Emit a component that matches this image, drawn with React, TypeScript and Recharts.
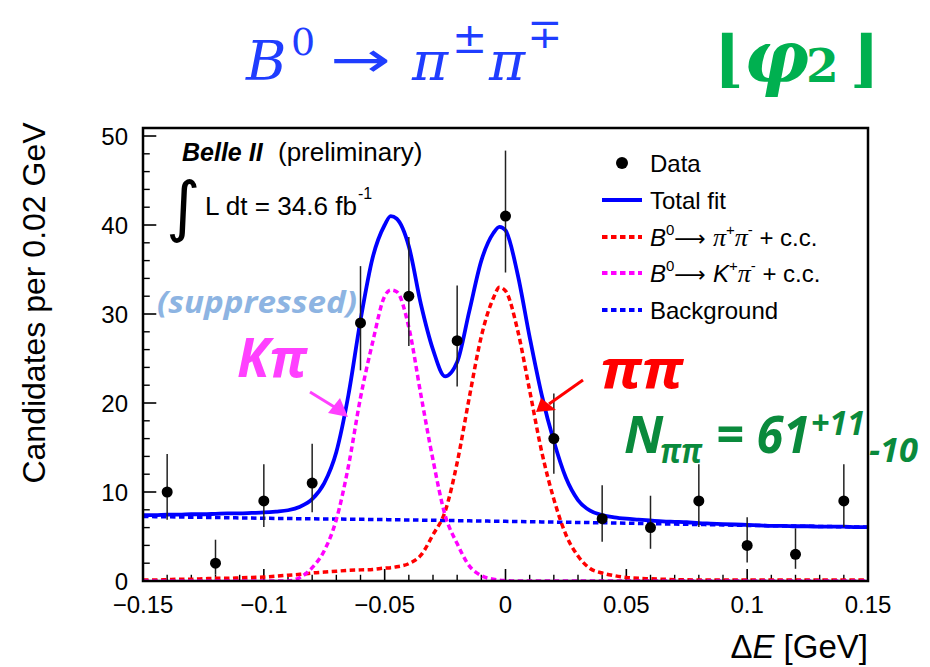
import { ComposedChart, Line, Scatter, ErrorBar, XAxis, YAxis, ReferenceLine } from 'recharts'

// fit curves (Delta E in GeV -> candidates per bin)
const FIT_X = [
  -0.15, -0.145, -0.14, -0.135, -0.13, -0.125, -0.12, -0.115, -0.11, -0.105, -0.1, -0.095, -0.09, -0.085, -0.08,
  -0.075, -0.07, -0.065, -0.06, -0.055, -0.05, -0.0475, -0.045, -0.04, -0.035, -0.03, -0.025, -0.02, -0.015, -0.01,
  -0.005, -0.0025, 0, 0.005, 0.01, 0.015, 0.02, 0.025, 0.03, 0.035, 0.04, 0.045, 0.05, 0.055, 0.06,
  0.065, 0.07, 0.075, 0.08, 0.085, 0.09, 0.095, 0.1, 0.105, 0.11, 0.115, 0.12, 0.125, 0.13, 0.135,
  0.14, 0.145, 0.15,
]
const TOTAL_FIT = [
  7.4, 7.4, 7.45, 7.45, 7.5, 7.5, 7.55, 7.6, 7.6, 7.65, 7.7, 7.8, 7.95, 8.35, 9.2,
  11.0, 14.5, 20.9, 29.3, 36.3, 40.0, 41.0, 40.7, 37.6, 31.1, 26.0, 23.0, 24.6, 30.3, 36.0,
  39.1, 39.8, 39.4, 34.5, 27.4, 20.9, 15.7, 11.6, 9.1, 7.9, 7.4, 7.15, 7.0, 6.9, 6.8,
  6.7, 6.65, 6.6, 6.5, 6.45, 6.4, 6.35, 6.3, 6.25, 6.2, 6.2, 6.15, 6.15, 6.1, 6.1,
  6.1, 6.05, 6.05,
]
const PIPI_FIT = [
  0.1, 0.1, 0.15, 0.2, 0.2, 0.25, 0.3, 0.3, 0.35, 0.4, 0.45, 0.55, 0.65, 0.75, 0.9,
  1.0, 1.1, 1.2, 1.25, 1.3, 1.45, 1.5, 1.6, 1.95, 2.9, 5.2, 7.8, 13.3, 20.6, 27.5,
  31.8, 33.0, 32.6, 28.2, 21.4, 14.5, 9.2, 5.2, 2.8, 1.4, 0.9, 0.6, 0.4, 0.3, 0.25,
  0.2, 0.15, 0.15, 0.1, 0.1, 0.1, 0.1, 0.1, 0.1, 0.1, 0.1, 0.1, 0.1, 0.1, 0.1,
  0.1, 0.1, 0.1,
]
const KPI_FIT = [
  0, 0, 0, 0, 0, 0, 0, 0, 0, 0, 0, 0, 0, 0.4, 1.5,
  3.4, 6.9, 12.9, 20.6, 26.8, 32.0, 32.7, 32.5, 28.5, 20.9, 13.6, 7.4, 4.2, 1.7, 0.6,
  0.2, 0.1, 0.05, 0, 0, 0, 0, 0, 0, 0, 0, 0, 0, 0, 0,
  0, 0, 0, 0, 0, 0, 0, 0, 0, 0, 0, 0, 0, 0, 0,
  0, 0, 0,
]
const BKG_FIT = [
  7.25, 7.23, 7.21, 7.19, 7.17, 7.15, 7.13, 7.11, 7.09, 7.07, 7.05, 7.03, 7.02, 7.0, 6.99,
  6.97, 6.96, 6.94, 6.93, 6.91, 6.9, 6.89, 6.88, 6.86, 6.84, 6.82, 6.8, 6.78, 6.76, 6.74,
  6.72, 6.71, 6.7, 6.68, 6.66, 6.64, 6.62, 6.6, 6.58, 6.56, 6.54, 6.52, 6.5, 6.47, 6.45,
  6.42, 6.4, 6.37, 6.35, 6.32, 6.3, 6.27, 6.25, 6.23, 6.21, 6.19, 6.17, 6.15, 6.13, 6.11,
  6.09, 6.07, 6.05,
]

// data points with asymmetric errors
const DATA_X = [-0.14, -0.12, -0.1, -0.08, -0.06, -0.04, -0.02, 0, 0.02, 0.04, 0.06, 0.08, 0.1, 0.12, 0.14]
const DATA_Y = [10, 2, 9, 11, 29, 32, 27, 41, 16, 7, 6, 9, 4, 3, 9]
const ERR_LO = [3.11, 1.29, 2.94, 3.27, 5.33, 5.59, 5.14, 6.34, 3.94, 2.58, 2.38, 2.94, 1.91, 1.63, 2.94]
const ERR_HI = [4.27, 2.64, 4.11, 4.42, 6.38, 6.64, 6.2, 7.36, 5.08, 3.77, 3.58, 4.11, 3.16, 2.92, 4.11]

const X_MAJOR = [-0.15, -0.1, -0.05, 0, 0.05, 0.1, 0.15]
const X_MINOR = [-0.14, -0.13, -0.12, -0.11, -0.09, -0.08, -0.07, -0.06, -0.04, -0.03, -0.02, -0.01,
  0.01, 0.02, 0.03, 0.04, 0.06, 0.07, 0.08, 0.09, 0.11, 0.12, 0.13, 0.14]
const Y_MAJOR = [0, 10, 20, 30, 40, 50]
const Y_MINOR = [2, 4, 6, 8, 12, 14, 16, 18, 22, 24, 26, 28, 32, 34, 36, 38, 42, 44, 46, 48]

const Y_MAX = 50.9
const SANS = '"Liberation Sans", Arial, sans-serif'
const HUMANIST = '"Open Sans", Lato, sans-serif'
const SERIF = '"DejaVu Serif", serif'
const BLUE = '#0000ff'
const RED = '#ff0000'
const MAGENTA = '#ff00ff'

const fitRows = FIT_X.map((x, i) => ({
  x, total: TOTAL_FIT[i], pipi: PIPI_FIT[i], kpi: KPI_FIT[i], bkg: BKG_FIT[i],
}))
const points = DATA_X.map((x, i) => ({ x, y: DATA_Y[i], err: [ERR_LO[i], ERR_HI[i]] }))

const fmtX = (v: number) => (v === 0 ? '0' : (v < 0 ? '\u2212' : '') + String(Math.abs(v)))

const Dot = (p: any) => <circle cx={p.cx} cy={p.cy} r={5.5} fill="#000" />

function Legend() {
  const rows = [
    { kind: 'dot' },
    { kind: 'line', color: BLUE, dash: undefined },
    { kind: 'line', color: RED, dash: '5.5 3.5' },
    { kind: 'line', color: MAGENTA, dash: '5.5 3.5' },
    { kind: 'line', color: BLUE, dash: '5.5 3.5' },
  ]
  const ys = [163, 200, 237, 273, 310]
  const pi = { fontStyle: 'italic', fontFamily: '"Liberation Serif", serif', fontSize: 26 } as const
  return (
    <g fontFamily={SANS} fontSize={24} fill="#000">
      {rows.map((r, i) =>
        r.kind === 'dot' ? (
          <circle key={i} cx={622} cy={ys[i]} r={6} fill="#000" />
        ) : (
          <line key={i} x1={602} x2={642} y1={ys[i]} y2={ys[i]} stroke={r.color} strokeWidth={3.8} strokeDasharray={r.dash} />
        )
      )}
      <text x={650} y={172}>Data</text>
      <text x={650} y={209}>Total fit</text>
      <text x={650} y={246}>
        <tspan fontStyle="italic">B</tspan>
        <tspan dy={-11} fontSize={15}>0</tspan>
        <tspan dy={11} fontFamily='"DejaVu Sans", sans-serif' fontSize={22}>{'\u27f6 '}</tspan>
        <tspan {...pi}>{'\u03c0'}</tspan>
        <tspan dy={-11} fontSize={15}>+</tspan>
        <tspan dy={11} {...pi}>{'\u03c0'}</tspan>
        <tspan dy={-11} fontSize={15}>-</tspan>
        <tspan dy={11}> + c.c.</tspan>
      </text>
      <text x={650} y={282}>
        <tspan fontStyle="italic">B</tspan>
        <tspan dy={-11} fontSize={15}>0</tspan>
        <tspan dy={11} fontFamily='"DejaVu Sans", sans-serif' fontSize={22}>{'\u27f6 '}</tspan>
        <tspan fontStyle="italic">K</tspan>
        <tspan dy={-11} fontSize={15}>+</tspan>
        <tspan dy={11} {...pi}>{'\u03c0'}</tspan>
        <tspan dy={-11} fontSize={15}>-</tspan>
        <tspan dy={11}> + c.c.</tspan>
      </text>
      <text x={650} y={319}>Background</text>
    </g>
  )
}

function Overlay() {
  return (
    <svg width={930} height={667} style={{ position: 'absolute', left: 0, top: 0, pointerEvents: 'none' }}>
      {/* title */}
      <g fill="#1f3dff" fontFamily={SERIF}>
        <text x={246} y={80} fontSize={55} fontStyle="italic">B</text>
        <text x={291} y={55} fontSize={38}>0</text>
        <text transform="translate(330,77) scale(1.45,1)" fontSize={50} fontFamily='"DejaVu Sans", sans-serif'>{'\u2192'}</text>
        <text x={412} y={80} fontSize={55} fontStyle="italic">{'\u03c0'}</text>
        <text x={452} y={53} fontSize={42}>{'\u00b1'}</text>
        <text x={489} y={80} fontSize={55} fontStyle="italic">{'\u03c0'}</text>
        <text x={527} y={48} fontSize={42}>{'\u2213'}</text>
      </g>
      <g fill="#00b050" fontWeight="bold" fontFamily={SERIF}>
        <text x={714} y={80} fontSize={62}>{'\u230a'}</text>
        <text x={744} y={82} fontSize={72} fontStyle="italic">{'\u03c6'}</text>
        <text x={806} y={82} fontSize={47}>2</text>
        <text x={850} y={80} fontSize={62}>{'\u230b'}</text>
      </g>

      {/* frame */}
      <rect x={143} y={128} width={725} height={453} fill="none" stroke="#000" strokeWidth={2.5} />

      {/* axis titles */}
      <text transform="translate(45,303) rotate(-90)" textAnchor="middle" fontFamily={SANS} fontSize={32} fill="#000">
        Candidates per 0.02 GeV
      </text>
      <text x={868} y={658} textAnchor="end" fontFamily={SANS} fontSize={33} fill="#000">
        {'\u0394'}<tspan fontStyle="italic">E</tspan> [GeV]
      </text>

      {/* experiment labels */}
      <text x={182} y={161} fontFamily={SANS} fontSize={25} fontWeight="bold" fontStyle="italic">Belle II</text>
      <text x={278} y={161} fontFamily={SANS} fontSize={26}>(preliminary)</text>
      <text x={166} y={229} fontFamily='"DejaVu Sans", sans-serif' fontSize={66}>{'\u222b'}</text>
      <text x={205} y={215} fontFamily={SANS} fontSize={25} textLength={152} lengthAdjust="spacingAndGlyphs">L dt = 34.6 fb</text>
      <text x={358} y={199} fontFamily={SANS} fontSize={16}>-1</text>

      <Legend />

      {/* annotations */}
      <text x={157} y={313} fontFamily={HUMANIST} fontSize={31} fontWeight="bold" fontStyle="italic" fill="#8db4e2"
        textLength={200} lengthAdjust="spacingAndGlyphs">(suppressed)</text>
      <text x={237} y={377} fontFamily={HUMANIST} fontSize={54} fontWeight="bold" fontStyle="italic" fill="#ff40ff"
        textLength={70} lengthAdjust="spacingAndGlyphs">K{'\u03c0'}</text>
      <text x={600} y={388} fontFamily={HUMANIST} fontSize={54} fontWeight="bold" fontStyle="italic" fill="#ff0000"
        textLength={83} lengthAdjust="spacingAndGlyphs">{'\u03c0\u03c0'}</text>
      <g fill="#ff40ff" stroke="#ff40ff">
        <line x1={310} y1={392} x2={336} y2={408} strokeWidth={3} />
        <polygon points="348,417 328,413 340,398" stroke="none" />
      </g>
      <g fill="#ff0000" stroke="#ff0000">
        <line x1={583} y1={380} x2={549} y2={404} strokeWidth={3} />
        <polygon points="536,412 541,398 556,410" stroke="none" />
      </g>
      <g fontFamily={HUMANIST} fontWeight="bold" fontStyle="italic" fill="#0a8a3c">
        <text x={624} y={453} fontSize={52}>N</text>
        <text x={660} y={463} fontSize={34} textLength={42} lengthAdjust="spacingAndGlyphs">{'\u03c0\u03c0'}</text>
        <text x={716} y={453} fontSize={52} textLength={94} lengthAdjust="spacingAndGlyphs">= 61</text>
        <text x={811} y={435} fontSize={34} textLength={54} lengthAdjust="spacingAndGlyphs">+11</text>
        <text x={869} y={462} fontSize={34} textLength={49} lengthAdjust="spacingAndGlyphs">-10</text>
      </g>
    </svg>
  )
}

export default function App() {
  return (
    <div style={{ position: 'absolute', left: 0, top: 0, width: 930, height: 667, background: '#fff', fontFamily: SANS }}>
      <ComposedChart
        width={930}
        height={667}
        data={fitRows}
        margin={{ top: 128, right: 62, bottom: 56, left: 103 }}
      >
        <XAxis
          dataKey="x"
          type="number"
          domain={[-0.15, 0.15]}
          ticks={X_MAJOR}
          tickFormatter={fmtX}
          allowDataOverflow
          height={30}
          axisLine={false}
          tickLine={false}
          tickSize={0}
          tickMargin={15}
          tick={{ fontSize: 24, fill: '#000', fontFamily: SANS }}
          interval={0}
        />
        <YAxis
          type="number"
          domain={[0, Y_MAX]}
          ticks={Y_MAJOR}
          allowDataOverflow
          width={40}
          axisLine={false}
          tickLine={false}
          tickSize={0}
          tickMargin={15}
          tick={{ fontSize: 24, fill: '#000', fontFamily: SANS }}
          interval={0}
        />
        {X_MAJOR.map((v) => (
          <ReferenceLine key={'xM' + v} segment={[{ x: v, y: 0 }, { x: v, y: 1.35 }]} stroke="#000" strokeWidth={1.6} ifOverflow="visible" />
        ))}
        {X_MINOR.map((v) => (
          <ReferenceLine key={'xm' + v} segment={[{ x: v, y: 0 }, { x: v, y: 0.7 }]} stroke="#000" strokeWidth={1.4} ifOverflow="visible" />
        ))}
        {Y_MAJOR.map((v) => (
          <ReferenceLine key={'yM' + v} segment={[{ x: -0.15, y: v }, { x: -0.1445, y: v }]} stroke="#000" strokeWidth={1.6} ifOverflow="visible" />
        ))}
        {Y_MINOR.map((v) => (
          <ReferenceLine key={'ym' + v} segment={[{ x: -0.15, y: v }, { x: -0.1472, y: v }]} stroke="#000" strokeWidth={1.4} ifOverflow="visible" />
        ))}
        <Line dataKey="bkg" type="monotone" stroke={BLUE} strokeWidth={3.5} strokeDasharray="5.5 3.5" dot={false} isAnimationActive={false} />
        <Line dataKey="pipi" type="monotone" stroke={RED} strokeWidth={3.5} strokeDasharray="5.5 3.5" dot={false} isAnimationActive={false} />
        <Line dataKey="kpi" type="monotone" stroke={MAGENTA} strokeWidth={3.5} strokeDasharray="5.5 3.5" dot={false} isAnimationActive={false} />
        <Line dataKey="total" type="monotone" stroke={BLUE} strokeWidth={3.8} dot={false} isAnimationActive={false} />
        <Scatter data={points} dataKey="y" shape={Dot} isAnimationActive={false}>
          <ErrorBar dataKey="err" direction="y" width={0} stroke="#222" strokeWidth={1.5} />
        </Scatter>
      </ComposedChart>
      <Overlay />
    </div>
  )
}
